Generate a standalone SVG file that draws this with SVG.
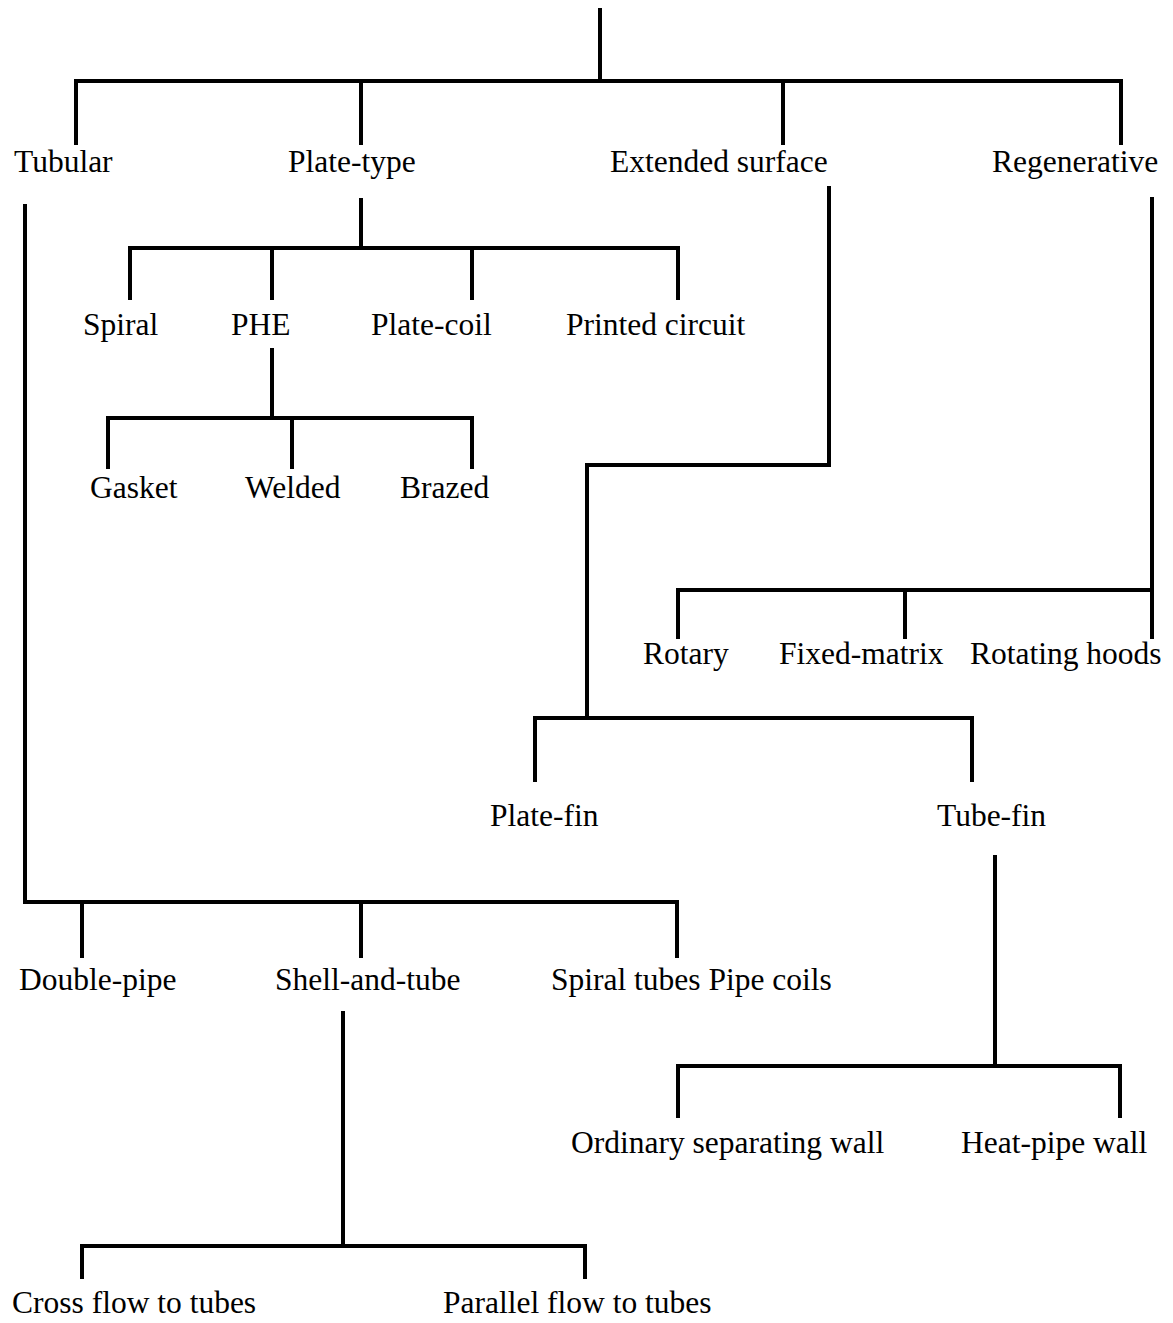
<svg xmlns="http://www.w3.org/2000/svg" width="1173" height="1323" viewBox="0 0 1173 1323">
<style>
.l{fill:none;stroke:#000;stroke-width:4;stroke-linecap:square;stroke-linejoin:miter}
.t{font-family:"Liberation Serif","Times New Roman",serif;font-size:31.5px;fill:#000}
</style>
<rect width="1173" height="1323" fill="#fff"/>
<g id="connectors">
<path class="l" d="M600 10V81M76 143V81H1121V143M361 81V143M783 81V143"/>
<path class="l" d="M361 200V248M130 298V248H678V298M272 248V298M472 248V298"/>
<path class="l" d="M272 350V418M108 467V418H472V467M292 418V467"/>
<path class="l" d="M829 188V465H587V718M535 780V718H972V780"/>
<path class="l" d="M995 857V1066M678 1116V1066H1120V1116"/>
<path class="l" d="M1152 199V637M678 637V590H1152M905 590V637"/>
<path class="l" d="M25 206V902H677V956M82 902V956M361 902V956"/>
<path class="l" d="M343 1013V1246M82 1277V1246H585V1277"/>
</g>
<g id="n-tubular"><text class="t" x="14" y="172">Tubular</text></g>
<g id="n-platetype"><text class="t" x="288" y="172">Plate-type</text></g>
<g id="n-extended"><text class="t" x="610" y="172">Extended surface</text></g>
<g id="n-regenerative"><text class="t" x="992" y="172">Regenerative</text></g>
<g id="n-spiral"><text class="t" x="83" y="335">Spiral</text></g>
<g id="n-phe"><text class="t" x="231" y="335">PHE</text></g>
<g id="n-platecoil"><text class="t" x="371" y="335">Plate-coil</text></g>
<g id="n-printed"><text class="t" x="566" y="335">Printed circuit</text></g>
<g id="n-gasket"><text class="t" x="90" y="498">Gasket</text></g>
<g id="n-welded"><text class="t" x="245" y="498">Welded</text></g>
<g id="n-brazed"><text class="t" x="400" y="498">Brazed</text></g>
<g id="n-rotary"><text class="t" x="643" y="664">Rotary</text></g>
<g id="n-fixed"><text class="t" x="779" y="664">Fixed-matrix</text></g>
<g id="n-hoods"><text class="t" x="970" y="664">Rotating hoods</text></g>
<g id="n-platefin"><text class="t" x="490" y="826">Plate-fin</text></g>
<g id="n-tubefin"><text class="t" x="937" y="826">Tube-fin</text></g>
<g id="n-double"><text class="t" x="19" y="990">Double-pipe</text></g>
<g id="n-shell"><text class="t" x="275" y="990">Shell-and-tube</text></g>
<g id="n-spiraltubes"><text class="t" x="551" y="990">Spiral tubes Pipe coils</text></g>
<g id="n-ordinary"><text class="t" x="571" y="1153">Ordinary separating wall</text></g>
<g id="n-heatpipe"><text class="t" x="961" y="1153">Heat-pipe wall</text></g>
<g id="n-cross"><text class="t" x="12" y="1313">Cross flow to tubes</text></g>
<g id="n-parallel"><text class="t" x="443" y="1313">Parallel flow to tubes</text></g>
</svg>
